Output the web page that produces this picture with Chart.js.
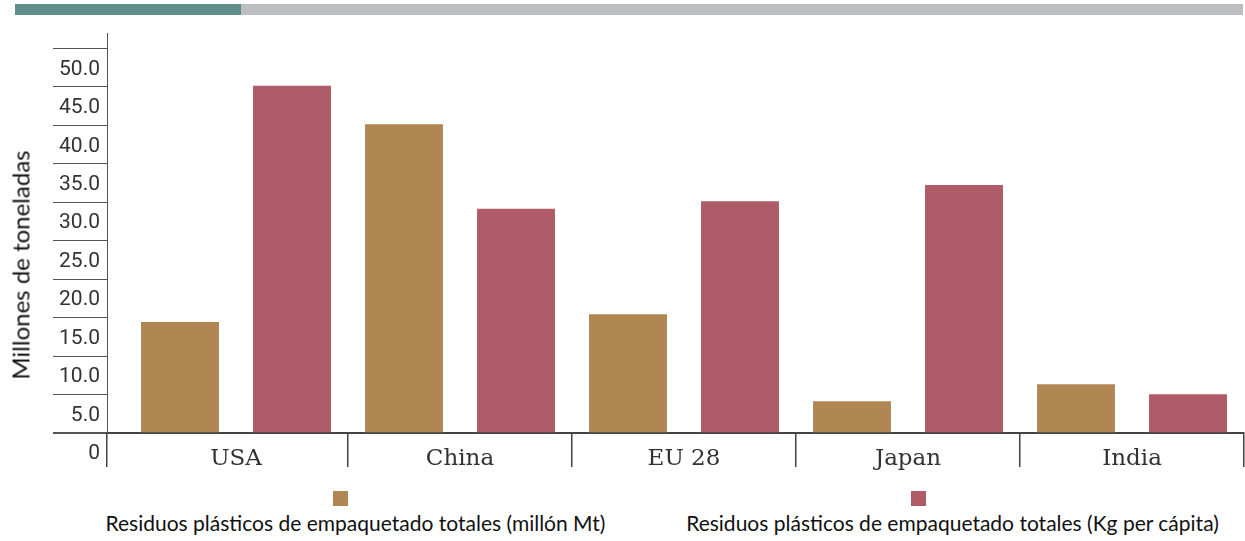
<!DOCTYPE html>
<html lang="es">
<head>
<meta charset="utf-8">
<script src="https://cdn.jsdelivr.net/npm/chart.js@4/dist/chart.umd.min.js"></script>
<style>
    html, body { margin: 0; padding: 0; background: #fff; overflow: hidden; }
    #wrap { position: relative; width: 1245px; height: 541px; }
    .bar { position: absolute; top: 4px; height: 11px; }
    #chartBox { position: absolute; left: 0; top: 0; width: 1245px; height: 480px; }
    #yTitle {
        position: absolute; left: 20px; top: 265px;
        transform: translate(-50%, -50%) rotate(-90deg);
        font: 24px Lato, sans-serif; color: #111; white-space: nowrap;
    }
    .legBox { position: absolute; top: 491px; width: 15px; height: 15px; }
    .legText {
        position: absolute; top: 510px; transform: translateX(-50%);
        font: 21px Lato, sans-serif; color: #111; white-space: nowrap; line-height: 26px;
    }
</style>
</head>
<body>
<div id="wrap">
    <div class="bar" style="left:15px;width:226px;background:#5f8d89"></div>
    <div class="bar" style="left:241px;width:1002px;background:#bdbec2"></div>
    <div id="chartBox"><canvas id="barChart" width="1245" height="480"></canvas></div>
    <div id="yTitle">Millones de toneladas</div>
    <div id="legend"></div>
</div>
<script>
// datos
const categories = ['USA', 'China', 'EU 28', 'Japan', 'India'];
const totalMt = [14.4, 40.1, 15.4, 4.1, 6.3];
const perCapitaKg = [45.1, 29.1, 30.1, 32.2, 5.0];
const seriesLabels = [
    'Residuos plásticos de empaquetado totales (millón Mt)',
    'Residuos plásticos de empaquetado totales (Kg per cápita)',
];
const seriesColors = ['#b08753', '#b05b68'];
const yTicks = [0, 5, 10, 15, 20, 25, 30, 35, 40, 45, 50];

// eje x lineal: el eje y queda un poco a la izquierda de la primera categoría
const xMin = -0.5 - 17 / 224;
const xMax = categories.length - 0.5;
// marcas: borde del eje, inicio de cada categoría, final
const xTicks = [xMin, ...categories.map((c, i) => i - 0.5), xMax];

// 1. leyenda (cuadro encima del texto)
const legendPos = [
    { box: 333, text: 355.5 },
    { box: 911, text: 952.5 },
];
const legend = document.getElementById('legend');
seriesLabels.forEach((label, i) => {
    const box = document.createElement('div');
    box.className = 'legBox';
    box.style.left = legendPos[i].box + 'px';
    box.style.background = seriesColors[i];
    legend.appendChild(box);
    const txt = document.createElement('div');
    txt.className = 'legText';
    txt.style.left = legendPos[i].text + 'px';
    txt.textContent = label;
    legend.appendChild(txt);
});

// 2. gráfico
const ctx = document.getElementById('barChart').getContext('2d');
new Chart(ctx, {
    type: 'bar',
    data: {
        datasets: [totalMt, perCapitaKg].map((values, i) => ({
            label: seriesLabels[i],
            data: values.map((v, j) => ({ x: j, y: v })),
            backgroundColor: seriesColors[i],
            borderWidth: 0,
            barThickness: 'flex',
            categoryPercentage: 1,
            barPercentage: 0.69,
        })),
    },
    options: {
        responsive: false,
        animation: false,
        devicePixelRatio: 1,
        layout: { padding: { top: 33, right: 1, bottom: 7, left: 0 } },
        plugins: {
            legend: { display: false },
            tooltip: { enabled: false },
        },
        scales: {
            x: {
                type: 'linear',
                offset: false,
                min: xMin,
                max: xMax,
                afterBuildTicks: (scale) => {
                    scale.ticks = xTicks.map((v) => ({ value: v }));
                },
                afterFit: (scale) => {
                    scale.height = 40;
                },
                grid: {
                    offset: false,
                    drawOnChartArea: false,
                    tickLength: 34,
                    color: (c) => (c.index === 1 ? 'rgba(0,0,0,0)' : '#444'),
                    lineWidth: 1.5,
                },
                border: { color: '#444', width: 2 },
                ticks: {
                    autoSkip: false,
                    maxRotation: 0,
                    labelOffset: 112,
                    padding: -22,
                    color: '#333',
                    font: { family: 'DejaVu Serif', size: 23 },
                    callback: (value, index) => categories[index - 1] || '',
                },
            },
            y: {
                min: 0,
                max: 52,
                afterBuildTicks: (scale) => {
                    scale.ticks = yTicks.map((v) => ({ value: v }));
                },
                afterFit: (scale) => {
                    scale.width = 107;
                },
                grid: {
                    drawOnChartArea: false,
                    tickLength: 54,
                    color: '#555',
                    lineWidth: (c) => (c.index === 0 ? 2 : 1),
                },
                border: { color: '#555', width: 1 },
                ticks: {
                    labelOffset: 21,
                    padding: -47,
                    color: '#333',
                    font: { family: 'Roboto', size: 21 },
                    callback: (value) => (value === 0 ? '0' : value.toFixed(1)),
                },
            },
        },
    },
});
</script>
</body>
</html>
